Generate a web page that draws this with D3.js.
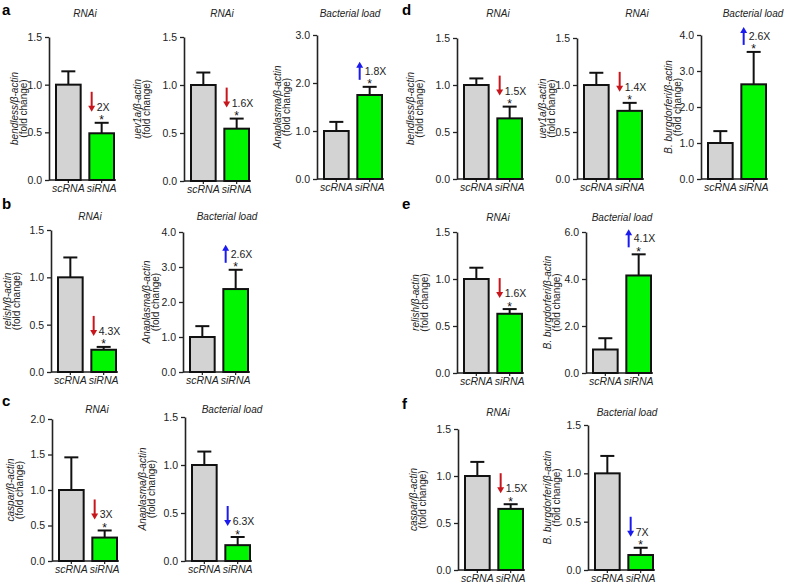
<!DOCTYPE html>
<html>
<head>
<meta charset="utf-8">
<script src="https://cdn.jsdelivr.net/npm/d3@7"></script>
<style>
  body { margin: 0; background: #fff; }
  svg { display: block; }
  text { font-family: Arial, "Liberation Sans", Helvetica, sans-serif; fill: #222; }
</style>
</head>
<body>
<svg id="fig" width="788" height="584"></svg>
<script>
// ---- data ----
var groups = ["scRNA", "siRNA"];
var panelIds = ["a1", "a2", "a3", "d1", "d2", "d3", "b1", "b2", "e1", "e2", "c1", "c2", "f1", "f2"];
var titles = ["RNAi", "RNAi", "Bacterial load", "RNAi", "RNAi", "Bacterial load",
              "RNAi", "Bacterial load", "RNAi", "Bacterial load",
              "RNAi", "Bacterial load", "RNAi", "Bacterial load"];
var geneNames = ["bendless", "uev1a", "Anaplasma", "bendless", "uev1a", "B. burgdorferi",
                 "relish", "Anaplasma", "relish", "B. burgdorferi",
                 "caspar", "Anaplasma", "caspar", "B. burgdorferi"];
var scMean  = [1, 1, 1, 1, 1, 1, 1, 1, 1, 1, 1, 1, 1, 1];
var scUpper = [1.14, 1.13, 1.19, 1.07, 1.13, 1.33, 1.21, 1.31, 1.12, 1.48, 1.46, 1.14, 1.15, 1.18];
var siMean  = [0.49, 0.545, 1.75, 0.645, 0.725, 2.63, 0.235, 2.37, 0.63, 4.15, 0.33, 0.165, 0.65, 0.155];
var siUpper = [0.60, 0.65, 1.92, 0.77, 0.81, 3.53, 0.265, 2.92, 0.68, 5.05, 0.43, 0.25, 0.70, 0.23];
var foldText = ["2X", "1.6X", "1.8X", "1.5X", "1.4X", "2.6X", "4.3X", "2.6X", "1.6X", "4.1X", "3X", "6.3X", "1.5X", "7X"];
var arrowDir = ["down", "down", "up", "down", "down", "up", "down", "up", "down", "up", "down", "down", "down", "down"];
var yMax  = [1.5, 1.5, 3, 1.5, 1.5, 4, 1.5, 4, 1.5, 6, 2, 1.5, 1.5, 1.5];
var yStep = [0.5, 0.5, 1, 0.5, 0.5, 1, 0.5, 1, 0.5, 2, 0.5, 0.5, 0.5, 0.5];
var letters = ["a", "d", "b", "e", "c", "f"];

// ---- layout (pixels) ----
var axisX  = [49, 184, 317, 457, 577, 701, 51, 183, 457, 586, 52, 185, 458, 588];
var topY   = [37, 37, 35, 38, 38, 35, 230, 232, 232, 232, 419, 417, 429, 425];
var botY   = [180, 181, 179, 179, 179, 179, 372, 372, 373, 373, 561, 561, 570, 570];
var labelDx = [-35, -47, -40, -47, -35, -33, -44, -37, -42, -39, -42, -43, -45, -41];
var titleX = [85, 222, 350, 498, 637, 753, 90, 227, 498, 622, 97, 232, 498, 627];
var titleY = [17, 17, 17, 17, 17, 17, 220, 220, 221, 221, 413, 413, 416, 416];
var letterPos = [[2, 15], [402, 15], [2, 209], [402, 209], [2, 406], [402, 409]];

var svg = d3.select("#fig");
var red = "#c8161d", blue = "#1b1bf0";
var font = "Arial, 'Liberation Sans', sans-serif";

letters.forEach(function(l, i) {
  svg.append("text")
    .attr("x", letterPos[i][0]).attr("y", letterPos[i][1])
    .style("font-size", "15px").style("font-weight", "bold").style("fill", "#000")
    .text(l);
});

panelIds.forEach(function(id, i) {
  var ax = axisX[i];
  var g = svg.append("g").attr("class", "panel " + id);

  var y = d3.scaleLinear().domain([0, yMax[i]]).range([botY[i], topY[i]]);
  var x = d3.scaleBand().domain(groups)
    .range([ax, ax + 72]).paddingInner(0.2).paddingOuter(0.18);
  var bw = x.bandwidth();

  // y axis
  var ticks = d3.range(0, yMax[i] + 1e-9, yStep[i]);
  var yAxis = g.append("g")
    .attr("transform", "translate(" + ax + ",0)")
    .call(d3.axisLeft(y).tickValues(ticks).tickFormat(d3.format(".1f"))
      .tickSize(4).tickSizeOuter(0).tickPadding(3));
  yAxis.select(".domain").attr("stroke", "#222").attr("stroke-width", 1.6);
  yAxis.selectAll(".tick line").attr("stroke", "#222").attr("stroke-width", 1.3);
  yAxis.selectAll(".tick text").style("font-size", "10.5px").style("fill", "#222")
    .style("font-family", font);

  // x baseline with category labels
  var xEnd = x("siRNA") + bw + 1;
  var xAxis = g.append("g")
    .attr("transform", "translate(0," + botY[i] + ")")
    .call(d3.axisBottom(x).tickSize(3).tickSizeOuter(0).tickPadding(2));
  xAxis.select(".domain").attr("d", "M" + ax + ",0H" + xEnd)
    .attr("stroke", "#222").attr("stroke-width", 1.6);
  xAxis.selectAll(".tick line").attr("stroke", "#222").attr("stroke-width", 1.2);
  xAxis.selectAll(".tick text").style("font-size", "10.5px").style("font-style", "italic")
    .style("fill", "#222").style("font-family", font);

  var means = [scMean[i], siMean[i]];
  var uppers = [scUpper[i], siUpper[i]];
  var fills = ["#d3d3d3", "#00f500"];

  // error bars (upper only)
  groups.forEach(function(k, j) {
    var cx = x(k) + bw / 2;
    g.append("line")
      .attr("x1", cx).attr("x2", cx)
      .attr("y1", y(means[j])).attr("y2", y(uppers[j]))
      .attr("stroke", "#111").attr("stroke-width", 2);
    g.append("line")
      .attr("x1", cx - 7).attr("x2", cx + 7)
      .attr("y1", y(uppers[j])).attr("y2", y(uppers[j]))
      .attr("stroke", "#111").attr("stroke-width", 2);
  });

  // bars
  g.selectAll("rect.bar").data(groups).enter().append("rect")
    .attr("class", "bar")
    .attr("x", function(d) { return x(d) + 1; })
    .attr("width", bw - 2)
    .attr("y", function(d, j) { return y(means[j]); })
    .attr("height", function(d, j) { return botY[i] - y(means[j]); })
    .attr("fill", function(d, j) { return fills[j]; })
    .attr("stroke", "#111").attr("stroke-width", 2);

  // title
  g.append("text")
    .attr("x", titleX[i]).attr("y", titleY[i])
    .attr("text-anchor", "middle")
    .style("font-size", "10px").style("font-style", "italic")
    .text(titles[i]);

  // y label (two lines)
  var midY = (topY[i] + botY[i]) / 2;
  var lab = g.append("text")
    .attr("transform", "translate(" + (ax + labelDx[i]) + "," + midY + ") rotate(-90)")
    .attr("text-anchor", "middle")
    .style("font-size", "10px");
  lab.append("tspan").attr("x", 0).attr("dy", "0.35em")
    .style("font-style", "italic").text(geneNames[i] + "/\u03b2-actin");
  lab.append("tspan").attr("x", 0).attr("dy", "0.95em")
    .text("(fold change)");

  // annotation: arrow, fold change, star
  var cx = x("siRNA") + bw / 2;
  var cy = y(siUpper[i]);
  var col = titles[i] === "RNAi" ? red : blue;
  g.append("text").attr("x", cx).attr("y", cy + 1.5)
    .attr("text-anchor", "middle").style("font-size", "12px").style("fill", "#111").text("*");
  g.append("text").attr("x", cx - 5).attr("y", cy - 12)
    .style("font-size", "10.5px").text(foldText[i]);
  var axx = cx - 10;
  var tail, tip;
  if (arrowDir[i] === "down") { tail = cy - 31; tip = cy - 11; }
  else { tail = cy - 7; tip = cy - 25; }
  var s = tip > tail ? 1 : -1;
  g.append("line")
    .attr("x1", axx).attr("x2", axx)
    .attr("y1", tail).attr("y2", tip - s * 5)
    .attr("stroke", col).attr("stroke-width", 2);
  g.append("path")
    .attr("d", "M" + (axx - 3.5) + "," + (tip - s * 6) + "L" + (axx + 3.5) + "," + (tip - s * 6) + "L" + axx + "," + tip + "Z")
    .attr("fill", col);
});
</script>
</body>
</html>
